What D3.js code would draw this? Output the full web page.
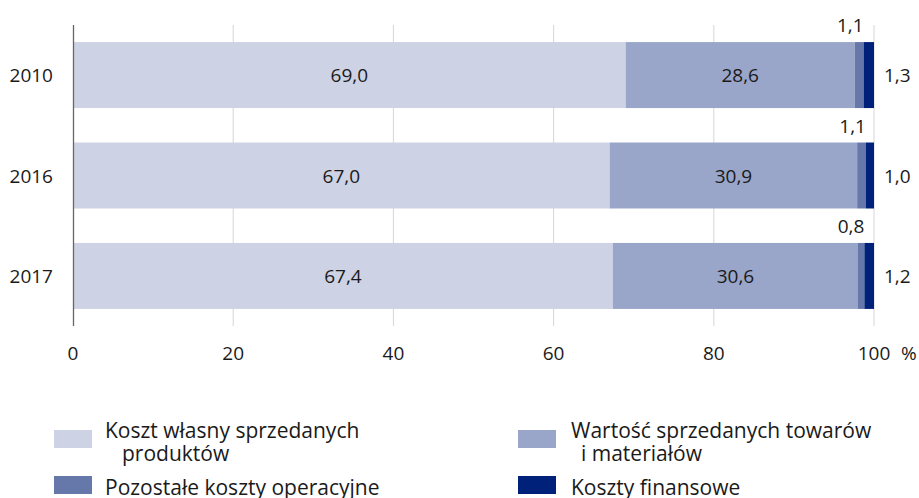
<!DOCTYPE html>
<html><head><meta charset="utf-8">
<script src="https://cdn.jsdelivr.net/npm/d3@7"></script>
<style>body{margin:0;background:#fff}svg{display:block}text{font-family:"Open Sans","Noto Sans",sans-serif;fill:#1a1a1a}</style>
</head><body><svg id="c" width="919" height="498"></svg>
<script>
const years = ["2010","2016","2017"];
const seriesNames = ["Koszt własny sprzedanych produktów","Wartość sprzedanych towarów i materiałów","Pozostałe koszty operacyjne","Koszty finansowe"];
const kosztWlasny = [69.0, 67.0, 67.4];
const wartoscTowarow = [28.6, 30.9, 30.6];
const pozostale = [1.1, 1.1, 0.8];
const finansowe = [1.3, 1.0, 1.2];
const xTicks = [0, 20, 40, 60, 80, 100];
const colors = ["#cdd2e5", "#99a6c9", "#6677aa", "#00217a"];

const svg = d3.select("#c");
const x = d3.scaleLinear().domain([0, 100]).range([73, 874]);
const y = d3.scaleBand().domain(years).range([25, 326]).paddingInner(0.343).paddingOuter(0.17);
const fmt = v => d3.format(".1f")(v).replace(".", ",");
const NUM = 19;

// grid
svg.append("g").selectAll("line").data(xTicks.slice(1)).join("line")
  .attr("x1", d => x(d)).attr("x2", d => x(d)).attr("y1", 25).attr("y2", 326)
  .attr("stroke", "#d6d6d6").attr("stroke-width", 1);

const rows = years.map((yr, i) => ({year: yr, vals: [kosztWlasny[i], wartoscTowarow[i], pozostale[i], finansowe[i]]}));
const stack = d3.stack().keys([0,1,2,3]).value((d, k) => d.vals[k]);
const stacked = stack(rows);

stacked.forEach((layer, k) => {
  svg.append("g").selectAll("rect").data(layer).join("rect")
    .attr("x", d => x(d[0])).attr("width", d => x(d[1]) - x(d[0]))
    .attr("y", d => y(d.data.year)).attr("height", y.bandwidth())
    .attr("fill", colors[k]);
});

// axis line
svg.append("line").attr("x1", 73.5).attr("x2", 73.5).attr("y1", 25).attr("y2", 326)
  .attr("stroke", "#666").attr("stroke-width", 1.3);

// labels inside big segments
[0,1].forEach(k => {
  svg.append("g").selectAll("text").data(stacked[k]).join("text")
    .attr("x", d => (x(d[0]) + x(d[1])) / 2)
    .attr("y", d => y(d.data.year) + y.bandwidth() / 2)
    .attr("text-anchor", "middle").attr("dominant-baseline", "central")
    .attr("font-size", NUM).text(d => fmt(d[1] - d[0]));
});
// pozostale labels above
svg.append("g").selectAll("text").data(stacked[2]).join("text")
  .attr("x", d => x(d[1]))
  .attr("y", d => y(d.data.year) - 10)
  .attr("text-anchor", "end").attr("font-size", NUM).text(d => fmt(d[1] - d[0]));
// finansowe labels right
svg.append("g").selectAll("text").data(stacked[3]).join("text")
  .attr("x", 884)
  .attr("y", d => y(d.data.year) + y.bandwidth() / 2)
  .attr("dominant-baseline", "central").attr("font-size", NUM).text(d => fmt(d[1] - d[0]));

// y labels
svg.append("g").selectAll("text").data(years).join("text")
  .attr("x", 53).attr("y", d => y(d) + y.bandwidth() / 2)
  .attr("text-anchor", "end").attr("dominant-baseline", "central")
  .attr("font-size", NUM).text(d => d);

// x tick labels
svg.append("g").selectAll("text").data(xTicks).join("text")
  .attr("x", d => x(d)).attr("y", 360)
  .attr("text-anchor", "middle").attr("font-size", NUM).text(d => d);
svg.append("text").attr("x", 901).attr("y", 360).attr("font-size", NUM).text("%");

// legend
const legend = [
  {c: colors[0], lines: ["Koszt własny sprzedanych", "produktów"], sx: 54, sy: 430, tx: 105, ind: 17},
  {c: colors[1], lines: ["Wartość sprzedanych towarów", "i materiałów"], sx: 518, sy: 430, tx: 571, ind: 10},
  {c: colors[2], lines: ["Pozostałe koszty operacyjne"], sx: 54, sy: 476, tx: 105, ind: 0},
  {c: colors[3], lines: ["Koszty finansowe"], sx: 518, sy: 476, tx: 571, ind: 0}
];
const lg = svg.append("g").selectAll("g").data(legend).join("g");
lg.append("rect").attr("x", d => d.sx).attr("y", d => d.sy).attr("width", 38).attr("height", 18).attr("fill", d => d.c);
lg.each(function(d) {
  const g = d3.select(this);
  d.lines.forEach((t, i) => {
    g.append("text").attr("x", d.tx + (i ? d.ind : 0)).attr("y", d.sy + 8 + i * 23 + (d.lines.length === 1 ? 11 : 0))
      .attr("font-size", 21).text(t);
  });
});
</script></body></html>
